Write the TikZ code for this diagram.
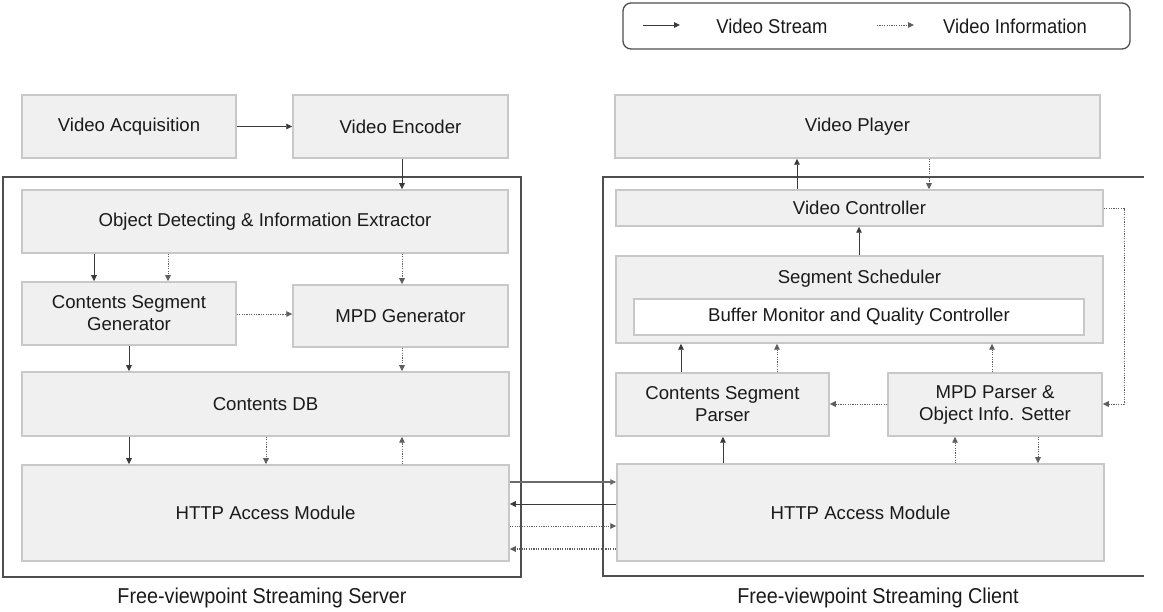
\documentclass[tikz,border=0pt]{standalone}
\usepackage{fontspec}
\setmainfont{Liberation Sans}
\newfontfamily\condfont{Liberation Sans}[FakeStretch=0.92]
\usetikzlibrary{arrows.meta}
\definecolor{boxfill}{HTML}{F0F0F0}
\definecolor{boxline}{HTML}{C8C8C8}
\definecolor{frameline}{HTML}{4E4E4E}
\definecolor{arrowcol}{HTML}{3A3A3A}
\definecolor{dotcol}{HTML}{5E5E5E}
\definecolor{txt}{HTML}{1A1A1A}
\newcommand{\mkbox}[6]{\node[box, minimum width={(#4-#2)*1pt}, minimum height={(#5-#3)*1pt}] (#1) at ({(#2+#4)/2},{(#3+#5)/2}) {#6};}
\begin{document}
\begin{tikzpicture}[x=1pt,y=-1pt,
  box/.style={draw=boxline, fill=boxfill, line width=1.5pt, inner sep=0pt, text=txt, align=center, font=\fontsize{18.6}{22}\selectfont},
  wbox/.style={box, fill=white},
  btext/.style={inner sep=0pt, text=txt, font=\fontsize{18.6}{22}\selectfont},
  legtext/.style={inner sep=0pt, text=txt, font=\condfont\fontsize{20}{24}\selectfont},
  lab/.style={inner sep=0pt, text=txt, font=\condfont\fontsize{21.5}{26}\selectfont},
  frame/.style={draw=frameline, line width=2pt},
  sarrow/.style={draw=arrowcol, line width=0.9pt, -{Triangle[length=6pt,width=5.5pt]}},
  darrow/.style={draw=dotcol, line width=0.9pt, dash pattern=on 1.2pt off 1.2pt, -{Triangle[length=6pt,width=5.5pt]}},
]
\useasboundingbox (0,0) rectangle (1163,612);

% legend
\node[draw=frameline, rounded corners=8pt, line width=1.3pt, minimum width=507pt, minimum height=46pt, inner sep=0pt] (legend) at (876.5,26) {};
\coordinate (ls1) at (643,25); \coordinate (ls2) at (680,25);
\coordinate (ld1) at (877,25); \coordinate (ld2) at (914,25);
\draw[sarrow] (ls1) -- (ls2);
\draw[darrow] (ld1) -- (ld2);
\node[legtext] (lstext) at (772,26) {Video Stream};
\node[legtext] (ldtext) at (1015,26) {Video Information};

% frames
\draw[frame] (3,177) rectangle (521,577);
\draw[frame] (1144,177) -- (603,177) -- (603,576) -- (1144,576);

% server boxes
\mkbox{va}{22}{95}{236}{158}{Video Acquisition}
\mkbox{ve}{293}{95}{508}{158}{Video Encoder}
\mkbox{odie}{22}{190}{508}{253}{Object Detecting \& Information Extractor}
\mkbox{csg}{22}{282}{236}{345}{Contents Segment\\Generator}
\mkbox{mpd}{293}{285}{508}{347}{MPD Generator}
\mkbox{db}{22}{372}{509}{436}{Contents DB}
\mkbox{hs}{22}{465}{509}{561}{HTTP Access Module}

% client boxes
\mkbox{vp}{615}{95}{1100}{158}{Video Player}
\mkbox{vc}{616}{190}{1103}{226}{Video Controller}
\mkbox{ss}{616}{256}{1103}{343}{}
\node[btext] (sstext) at (859.5,279) {Segment Scheduler};
\node[wbox, minimum width=450pt, minimum height=36pt] (buf) at (859,317) {Buffer Monitor and Quality Controller};
\mkbox{csp}{616}{373}{829}{436}{Contents Segment\\Parser}
\mkbox{mpdp}{888}{373}{1102}{436}{MPD Parser \&\\Object Info. Setter}
\mkbox{hc}{617}{464}{1104}{561}{HTTP Access Module}

% labels
\node[lab] (slabel) at (262,598) {Free-viewpoint Streaming Server};
\node[lab] (clabel) at (878,598) {Free-viewpoint Streaming Client};

% server arrows
\draw[sarrow] (va.east) -- (ve.west);
\draw[sarrow] (ve.south -| 402,0) -- (odie.north -| 402,0);
\draw[sarrow] (odie.south -| 94,0) -- (csg.north -| 94,0);
\draw[darrow] (odie.south -| 168,0) -- (csg.north -| 168,0);
\draw[darrow] (odie.south -| 402,0) -- (mpd.north -| 402,0);
\draw[darrow] (csg.east |- 0,314) -- (mpd.west |- 0,314);
\draw[sarrow] (csg.south -| 129,0) -- (db.north -| 129,0);
\draw[darrow] (mpd.south -| 402,0) -- (db.north -| 402,0);
\draw[sarrow] (db.south -| 129,0) -- (hs.north -| 129,0);
\draw[darrow] (db.south -| 266,0) -- (hs.north -| 266,0);
\draw[darrow] (hs.north -| 402,0) -- (db.south -| 402,0);

% client arrows
\draw[sarrow] (vc.north -| 797,0) -- (vp.south -| 797,0);
\draw[darrow] (vp.south -| 929,0) -- (vc.north -| 929,0);
\draw[sarrow] (ss.north -| 859,0) -- (vc.south -| 859,0);
\draw[sarrow] (csp.north -| 681,0) -- (ss.south -| 681,0);
\draw[darrow] (csp.north -| 777,0) -- (ss.south -| 777,0);
\draw[darrow] (mpdp.north -| 992,0) -- (ss.south -| 992,0);
\draw[darrow] (mpdp.west |- 0,404) -- (csp.east |- 0,404);
\coordinate (c1) at (1124,208);
\coordinate (c2) at (1124,404);
\draw[darrow] (vc.east |- c1) -- (c1) -- (c2) -- (mpdp.east |- c2);
\draw[sarrow] (hc.north -| 723,0) -- (csp.south -| 723,0);
\draw[darrow] (hc.north -| 955,0) -- (mpdp.south -| 955,0);
\draw[darrow] (mpdp.south -| 1038,0) -- (hc.north -| 1038,0);

% between server and client
\draw[sarrow, draw=arrowcol!75, line width=1.6pt] (hs.east |- 0,482) -- (hc.west |- 0,482);
\draw[sarrow] (hc.west |- 0,504) -- (hs.east |- 0,504);
\draw[darrow] (hs.east |- 0,526) -- (hc.west |- 0,526);
\draw[darrow, line width=1.2pt] (hc.west |- 0,549) -- (hs.east |- 0,549);
\end{tikzpicture}
\end{document}
